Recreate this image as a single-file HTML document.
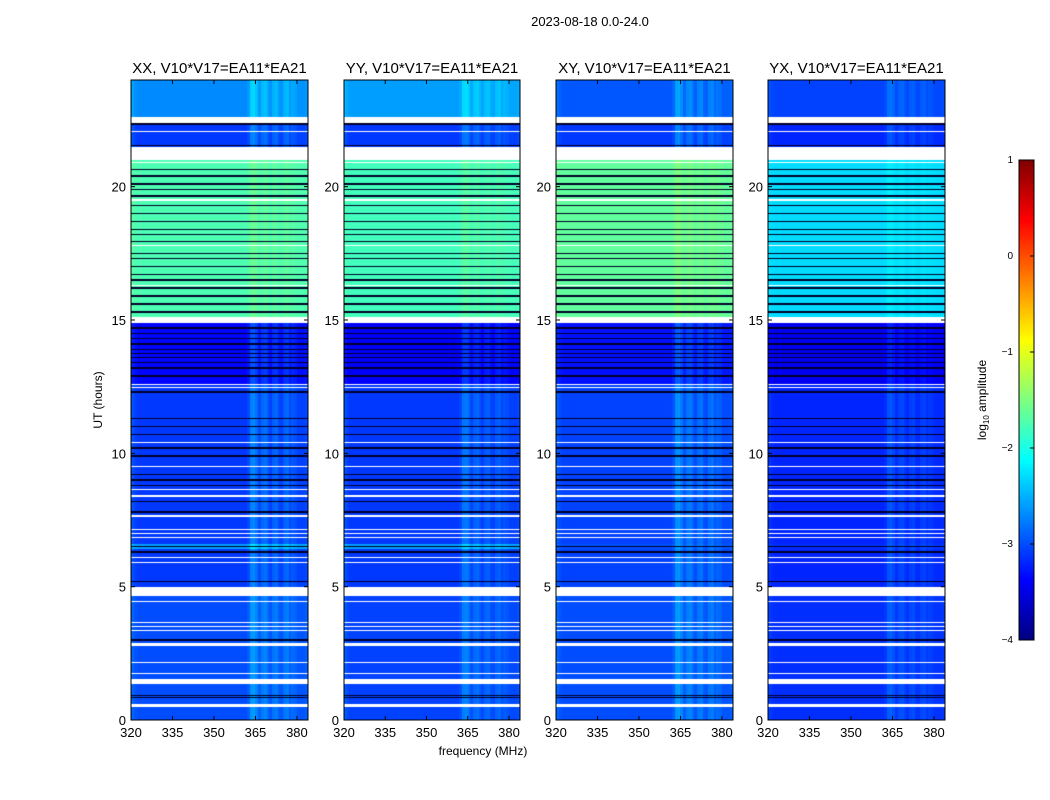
<!DOCTYPE html>
<html><head><meta charset="utf-8"><style>
body{margin:0;background:#fff;width:1050px;height:800px;overflow:hidden;font-family:"Liberation Sans",sans-serif;}
#root{position:relative;width:1050px;height:800px;}
canvas{position:absolute;}
svg{position:absolute;left:0;top:0;}
</style></head><body>
<div id="root">
<canvas id="c0" width="177" height="640" style="left:131px;top:80px"></canvas>
<canvas id="c1" width="176" height="640" style="left:344px;top:80px"></canvas>
<canvas id="c2" width="177" height="640" style="left:556px;top:80px"></canvas>
<canvas id="c3" width="177" height="640" style="left:768px;top:80px"></canvas>
<canvas id="cb" width="15" height="480" style="left:1019px;top:160px"></canvas>
<svg id="s" width="1050" height="800"></svg>
</div>
<script>
// ---- data ----
const panelTitles = ["XX, V10*V17=EA11*EA21","YY, V10*V17=EA11*EA21","XY, V10*V17=EA11*EA21","YX, V10*V17=EA11*EA21"];
const xTicks = [320,335,350,365,380];
const yTicks = [0,5,10,15,20];
const cbTicks = [1,0,-1,-2,-3,-4];
// time segments [startHour, endHour]
const segments = [[0,4.65],[5.0,6.4],[6.4,6.6],[6.6,12.55],[12.6,14.9],[15.1,21.0],[21.5,22.4],[22.6,24]];
// log10 amplitude per segment per panel
const levelsXX = [-3.0,-3.1,-2.6,-3.1,-3.35,-1.75,-3.1,-2.7];
const levelsYY = [-3.05,-3.1,-2.6,-3.1,-3.4,-1.8,-3.1,-2.6];
const levelsXY = [-3.0,-3.05,-3.0,-3.05,-3.3,-1.65,-3.1,-2.95];
const levelsYX = [-3.15,-3.2,-3.15,-3.2,-3.45,-2.3,-3.2,-3.05];
// flagged (white) intervals in hours
const flagged = [[4.65,5.0],[21.0,21.5],[14.9,15.1],[12.55,12.6],[12.45,12.48],[22.4,22.6],[22.05,22.1],[10.38,10.43],[9.48,9.53],[8.63,8.68],[8.38,8.43],[7.63,7.68],[7.13,7.17],[6.98,7.02],[6.83,6.87],[6.08,6.12],[5.88,5.92],[4.43,4.47],[3.65,3.69],[3.48,3.52],[3.35,3.39],[2.77,2.9],[2.13,2.17],[1.73,1.77],[1.35,1.55],[0.5,0.6],[19.48,19.52],[17.78,17.82],[16.28,16.32],[20.88,20.92]];
// dark (near zero) rows in hours
const darkRows = [15.3,15.6,15.9,16.2,16.5,16.7,17.0,17.3,17.5,17.95,18.2,18.4,18.7,19.0,19.3,19.65,19.9,20.1,20.4,20.65,13.2,13.4,13.6,13.75,13.9,14.1,14.3,14.5,14.7,12.3,11.3,11.0,10.7,10.2,9.9,9.2,9.0,8.8,8.2,7.8,6.5,6.3,5.2,3.0,0.85,0.92,21.55,22.35,12.9];
// per-channel (1 MHz, 320..383) enhancement in log10 amplitude
const chanBoost = [0.15,0.05,0,0,0,0,0,0,0,0, 0,0,0,0,0,0,0,0,0,0, 0,0,0,0,0,0,0,0,0,0, 0,0,0,0,0,0,0,0,0,0, 0,0,0.1,0.45,0.5,0.35,0.1,0.3,0.35,0.2, 0.05,0.25,0.3,0.1,0.05,0.25,0.3,0.1,0.2,0.15, 0.05,0.05,0.05,0.1];
const allLevels = [levelsXX,levelsYY,levelsXY,levelsYX];
const boostScale = [0.8,0.65,0.8,0.5];

// ---- axis functions ----
const fMin=320,fMax=384,tMin=0,tMax=24,vMin=-4,vMax=1;
function jet(v){
  let t=(v-vMin)/(vMax-vMin); t=Math.max(0,Math.min(1,t));
  const c=x=>Math.round(255*Math.max(0,Math.min(1,x)));
  return [c(1.5-Math.abs(4*t-3)),c(1.5-Math.abs(4*t-2)),c(1.5-Math.abs(4*t-1))];
}
function hourAt(py,H){return tMax-(py+0.5)/H*(tMax-tMin);}
function chanAt(px,W){return Math.floor((px+0.5)/W*(fMax-fMin));}

allLevels.forEach((lev,p)=>{
  const cv=document.getElementById('c'+p),ctx=cv.getContext('2d');
  const W=cv.width,H=cv.height,img=ctx.createImageData(W,H);
  for(let y=0;y<H;y++){
    const h=hourAt(y,H);
    let white=flagged.some(f=>h>=f[0]&&h<f[1]);
    let dark=darkRows.some(d=>Math.abs(h-d)<0.028);
    let seg=segments.findIndex(s=>h>=s[0]&&h<s[1]);
    if(seg<0)white=true;
    for(let x=0;x<W;x++){
      const i=4*(y*W+x);let rgb;
      if(white)rgb=[255,255,255];
      else if(dark)rgb=[0,0,40];
      else{
        const ch=chanAt(x,W);
        const boost=chanBoost[ch]*boostScale[p]*(seg===5?0.4:1);
        rgb=jet(lev[seg]+boost);
      }
      img.data[i]=rgb[0];img.data[i+1]=rgb[1];img.data[i+2]=rgb[2];img.data[i+3]=255;
    }
  }
  ctx.putImageData(img,0,0);
});
(function(){
  const cv=document.getElementById('cb'),ctx=cv.getContext('2d');
  for(let y=0;y<cv.height;y++){const v=vMax-(y+0.5)/cv.height*(vMax-vMin);const c=jet(v);ctx.fillStyle=`rgb(${c})`;ctx.fillRect(0,y,cv.width,1);}
})();

// ---- axes ----
const svg=document.getElementById('s');const NS='http://www.w3.org/2000/svg';
function add(tag,attrs,txt,name){const e=document.createElementNS(NS,tag);for(const k in attrs)e.setAttribute(k,attrs[k]);if(txt!==undefined)e.textContent=txt;


svg.appendChild(e);return e;}
const panels=[[131,308],[344,520],[556,733],[768,945]];
const axTop=80,axBot=720;
add('text',{x:590,y:26,'font-size':13,'text-anchor':'middle'},'2023-08-18 0.0-24.0','figure-title');
panels.forEach((pp,p)=>{
  const [l,r]=pp;const xs=f=>l+(f-fMin)/(fMax-fMin)*(r-l);const ys=t=>axBot-(t-tMin)/(tMax-tMin)*(axBot-axTop);
  add('rect',{x:l,y:axTop,width:r-l,height:axBot-axTop,fill:'none',stroke:'#000','stroke-width':1},undefined,'panel-frame');
  add('text',{x:(l+r)/2,y:73,'font-size':15,'text-anchor':'middle'},panelTitles[p],'panel-title');
  xTicks.forEach(v=>{const x=xs(v);
    add('line',{x1:x,y1:axBot,x2:x,y2:axBot-4,stroke:'#000'},undefined,'x-tick');
    add('line',{x1:x,y1:axTop,x2:x,y2:axTop+4,stroke:'#000'},undefined,'x-tick');
    add('text',{x:x,y:axBot+17,'font-size':13,'text-anchor':'middle'},String(v),'x-tick-label');});
  yTicks.forEach(v=>{const y=ys(v);
    add('line',{x1:l,y1:y,x2:l+4,y2:y,stroke:'#000'},undefined,'y-tick');
    add('line',{x1:r,y1:y,x2:r-4,y2:y,stroke:'#000'},undefined,'y-tick');
    add('text',{x:l-5,y:y+5,'font-size':13,'text-anchor':'end'},String(v),'y-tick-label');});
});
add('text',{x:483,y:755,'font-size':12,'text-anchor':'middle'},'frequency (MHz)','x-axis-title');
add('text',{x:0,y:0,'font-size':12,'text-anchor':'middle',transform:'translate(102,400) rotate(-90)'},'UT (hours)','y-axis-title');
add('rect',{x:1019,y:160,width:15,height:480,fill:'none',stroke:'#000'},undefined,'colorbar-frame');
cbTicks.forEach(v=>{const y=160+(vMax-v)/(vMax-vMin)*480;
  add('line',{x1:1030,y1:y,x2:1034,y2:y,stroke:'#000'},undefined,'colorbar-tick');
  add('text',{x:1013,y:y+3,'font-size':10,'text-anchor':'end'},v<0?'\u2212'+(-v):String(v),'colorbar-tick-label');});
const lt=add('text',{x:0,y:0,'font-size':12,'text-anchor':'middle',transform:'translate(986,400) rotate(-90)'},undefined,'colorbar-title');
lt.innerHTML='log<tspan font-size="8" dy="3">10</tspan><tspan dy="-3"> amplitude</tspan>';
</script>
</body></html>
